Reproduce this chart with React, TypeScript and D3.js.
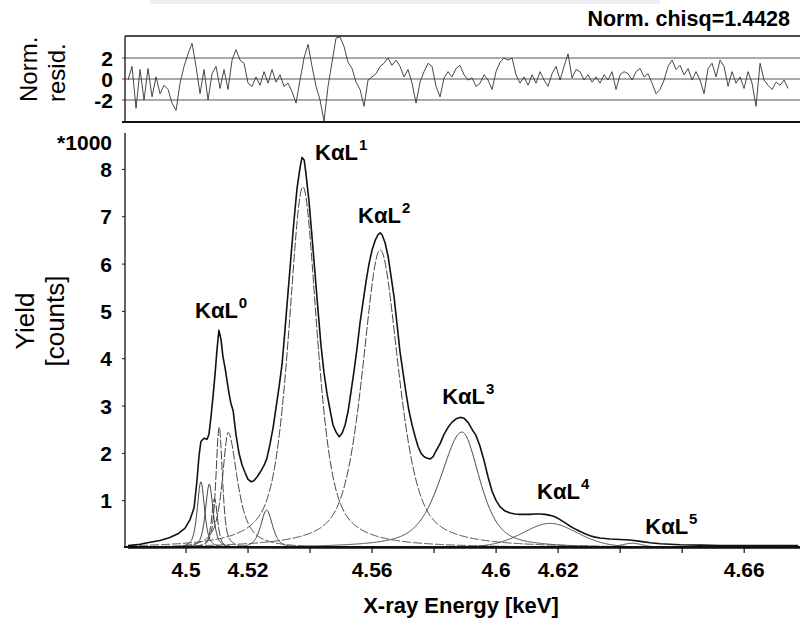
import React, { useRef, useEffect } from 'react';
import * as d3 from 'd3';

// measured spectrum: energy [keV] and yield [counts / 1000]
const specEnergy = [
  4.4813, 4.4852, 4.4884, 4.4916, 4.4948, 4.4974, 4.4997, 4.5013, 4.5026, 4.5035,
  4.5042, 4.5048, 4.5058, 4.5068, 4.5074, 4.5081, 4.5087, 4.5094, 4.5100, 4.5106,
  4.5113, 4.5119, 4.5126, 4.5132, 4.5139, 4.5145, 4.5152, 4.5161, 4.5171, 4.5181,
  4.5190, 4.5200, 4.5210, 4.5219, 4.5229, 4.5239, 4.5252, 4.5261, 4.5271, 4.5281,
  4.5290, 4.5300, 4.5310, 4.5319, 4.5329, 4.5339, 4.5348, 4.5358, 4.5368, 4.5374,
  4.5381, 4.5387, 4.5397, 4.5406, 4.5416, 4.5426, 4.5435, 4.5445, 4.5455, 4.5465,
  4.5474, 4.5484, 4.5494, 4.5503, 4.5513, 4.5523, 4.5532, 4.5542, 4.5552, 4.5561,
  4.5571, 4.5581, 4.5590, 4.5600, 4.5610, 4.5619, 4.5626, 4.5632, 4.5642, 4.5652,
  4.5661, 4.5671, 4.5681, 4.5690, 4.5700, 4.5710, 4.5719, 4.5729, 4.5739, 4.5748,
  4.5758, 4.5768, 4.5777, 4.5787, 4.5797, 4.5806, 4.5819, 4.5832, 4.5845, 4.5858,
  4.5871, 4.5884, 4.5897, 4.5910, 4.5923, 4.5935, 4.5948, 4.5961, 4.5974, 4.5987,
  4.6000, 4.6013, 4.6029, 4.6045, 4.6061, 4.6077, 4.6094, 4.6110, 4.6126, 4.6142,
  4.6158, 4.6174, 4.6190, 4.6206, 4.6223, 4.6239, 4.6255, 4.6271, 4.6287, 4.6303,
  4.6319, 4.6335, 4.6368, 4.6400, 4.6432, 4.6465, 4.6497, 4.6529, 4.6594, 4.6658,
  4.6723, 4.6819, 4.6916, 4.6974
];
const specYield = [
  0.05, 0.08, 0.12, 0.16, 0.22, 0.30, 0.42, 0.60, 0.85, 1.40,
  1.95, 2.25, 2.32, 2.30, 2.40, 2.80, 3.20, 3.70, 4.20, 4.60,
  4.40, 4.05, 3.80, 3.55, 3.25, 3.05, 2.90, 2.40, 2.00, 1.75,
  1.60, 1.45, 1.40, 1.42, 1.50, 1.60, 1.75, 1.90, 2.20, 2.55,
  2.95, 3.40, 3.90, 4.60, 5.40, 6.20, 6.90, 7.60, 8.05, 8.25,
  8.20, 7.90, 7.30, 6.60, 5.80, 5.00, 4.30, 3.70, 3.25, 2.90,
  2.60, 2.45, 2.35, 2.42, 2.60, 2.90, 3.30, 3.75, 4.25, 4.75,
  5.20, 5.65, 6.00, 6.30, 6.50, 6.62, 6.66, 6.62, 6.45, 6.15,
  5.75, 5.30, 4.70, 4.15, 3.70, 3.25, 2.90, 2.60, 2.35, 2.15,
  2.00, 1.93, 1.90, 1.88, 1.93, 2.05, 2.20, 2.40, 2.55, 2.66,
  2.73, 2.76, 2.74, 2.65, 2.50, 2.38, 2.15, 1.85, 1.50, 1.20,
  1.00, 0.87, 0.78, 0.74, 0.72, 0.71, 0.71, 0.71, 0.72, 0.72,
  0.71, 0.69, 0.66, 0.60, 0.53, 0.46, 0.40, 0.35, 0.30, 0.26,
  0.23, 0.21, 0.19, 0.18, 0.17, 0.14, 0.11, 0.09, 0.07, 0.06,
  0.05, 0.05, 0.05, 0.05
];

// fitted line components (pseudo-Voigt): centre, height, left/right HWHM [keV], lorentz fraction
const peakCenter = [4.5048, 4.5075, 4.5092, 4.5107, 4.5136, 4.5260, 4.5377, 4.5626, 4.5890, 4.6174, 4.6439];
const peakHeight = [1.40, 1.35, 1.05, 2.56, 2.44, 0.80, 7.63, 6.30, 2.45, 0.52, 0.10];
const peakWidthL = [0.00139, 0.00145, 0.00113, 0.00123, 0.00226, 0.00226, 0.00548, 0.00677, 0.00839, 0.01065, 0.00452];
const peakWidthR = [0.00139, 0.00145, 0.00113, 0.00123, 0.00355, 0.00226, 0.00548, 0.00710, 0.00677, 0.01065, 0.00452];
const peakEta = [0.6, 0.6, 0.6, 0.6, 0.85, 0.6, 0.65, 0.6, 0.6, 0.3, 0.5];
const peakDashed = [false, false, true, true, true, false, true, true, false, false, false];

// normalised residuals, one per channel
const residStart = 4.4813;
const residStep = 0.00129;
const residuals = [
  -0.1, 1.2, -2.8, 0.9, -2.0, 1.0, -1.7, 0.2, -1.4, -0.6,
  -1.0, -2.3, -3.0, -0.4, 1.2, 2.4, 3.4, 1.2, -1.4, 0.9,
  -2.0, 0.5, 1.2, -0.9, 0.9, -1.0, 1.8, 2.8, 1.8, 1.5,
  -0.4, -0.7, 0.2, -0.6, 0.7, -0.4, 0.9, -0.3, 0.4, -0.7,
  -0.4, -1.2, -2.3, -0.1, 2.0, 3.3, 1.2, -0.7, -2.0, -4.0,
  -0.7, 1.6, 3.9, 4.0, 3.1, 1.6, 1.0, -0.3, -1.0, -2.6,
  -0.1, 0.2, 0.5, 1.2, 1.5, 2.0, 1.3, 1.8, 1.2, 0.2,
  0.9, -0.4, -2.3, -0.3, 0.7, 1.5, 1.2, -0.7, -1.7, 0.1,
  0.7, 0.2, 1.0, 1.3, 0.4, -0.1, 0.1, -0.7, -0.4, 0.4,
  -0.1, -1.0, 0.7, 1.6, 2.0, 1.8, 2.0, 0.4, -0.4, 0.2,
  -0.6, 0.4, -0.4, 0.7, -0.1, -0.7, 0.5, 1.2, -0.1, 1.2,
  2.4, 0.1, 0.9, 0.7, -0.1, 0.4, -0.3, 0.2, -0.4, 0.4,
  -0.1, 0.7, -1.0, 0.4, 0.7, 0.5, -0.1, 0.7, 1.0, 0.2,
  0.5, -0.4, -1.4, -1.0, -0.1, 1.2, 1.8, 0.9, 1.3, 0.4,
  1.0, -0.1, 0.7, -0.1, -1.4, 1.0, 1.5, 0.2, 1.8, 1.2,
  -0.7, 0.7, -0.4, 0.2, -0.9, 0.7, -0.4, -2.6, 1.5, -0.1,
  -0.6, -1.0, -0.3, -0.6, -0.1, -0.9
];

const yTicks = [1, 2, 3, 4, 5, 6, 7, 8];
const residTicks = [2, 0, -2];
const xTickValues = [4.5, 4.52, 4.54, 4.56, 4.58, 4.6, 4.62, 4.64, 4.66, 4.68];
const xLabelValues = [4.5, 4.52, 4.56, 4.6, 4.62, 4.68];
const xLabelTexts = ['4.5', '4.52', '4.56', '4.6', '4.62', '4.66'];

const lineLabels = ['0', '1', '2', '3', '4', '5'];
const labelEnergy = [4.5029, 4.5416, 4.5555, 4.5826, 4.6132, 4.6481];
const labelYield = [4.86, 8.19, 6.87, 3.04, 1.04, 0.30];

const chisq = '1.4428';

const FONT = "'Liberation Sans', Arial, Helvetica, sans-serif";

const pseudoVoigt = (e: number, i: number) => {
  const c = peakCenter[i];
  const w = e < c ? peakWidthL[i] : peakWidthR[i];
  const r = ((e - c) / w) ** 2;
  const eta = peakEta[i];
  return peakHeight[i] * (eta / (1 + r) + (1 - eta) * Math.exp(-Math.LN2 * r));
};

const App = () => {
  const svgRef = useRef<SVGSVGElement>(null);

  useEffect(() => {
    const svg = d3.select(svgRef.current);
    svg.selectAll('*').remove();

    const x = d3.scaleLinear().domain([4.48, 4.698]).range([124, 800]);
    const y = d3.scaleLinear().domain([0, 8.77]).range([548, 133]);
    const yr = d3.scaleLinear().domain([-4.1, 4.1]).range([122, 36]);

    // faint strip at the top edge of the scan
    svg.append('rect').attr('x', 150).attr('y', 0).attr('width', 510).attr('height', 4)
      .attr('fill', '#eeeeee');

    // ---- residual panel ----
    const top = svg.append('g');
    residTicks.forEach(t => {
      top.append('line')
        .attr('x1', 122).attr('x2', 800)
        .attr('y1', yr(t)).attr('y2', yr(t))
        .attr('stroke', '#555').attr('stroke-width', 1);
      top.append('text')
        .attr('x', 113).attr('y', yr(t)).attr('dy', '0.36em')
        .attr('text-anchor', 'end')
        .style('font-family', FONT).style('font-size', '21px').style('font-weight', 'bold')
        .text(t);
    });
    top.append('line').attr('x1', 125).attr('x2', 800).attr('y1', 36).attr('y2', 36)
      .attr('stroke', '#111').attr('stroke-width', 1.3);
    top.append('line').attr('x1', 122).attr('x2', 800).attr('y1', 122).attr('y2', 122)
      .attr('stroke', '#111').attr('stroke-width', 2.2);
    top.append('line').attr('x1', 125).attr('x2', 125).attr('y1', 36).attr('y2', 122)
      .attr('stroke', '#111').attr('stroke-width', 1.3);

    const residLine = d3.line<number>()
      .x((d, i) => x(residStart + i * residStep))
      .y(d => yr(d));
    top.append('path').datum(residuals)
      .attr('d', residLine)
      .attr('fill', 'none').attr('stroke', '#333').attr('stroke-width', 0.9);

    top.append('text')
      .attr('transform', 'translate(37,102) rotate(-90)')
      .style('font-family', FONT).style('font-size', '24px')
      .text('Norm.');
    top.append('text')
      .attr('transform', 'translate(65,102) rotate(-90)')
      .style('font-family', FONT).style('font-size', '24px')
      .text('resid.');

    svg.append('text')
      .attr('x', 790).attr('y', 26).attr('text-anchor', 'end')
      .style('font-family', FONT).style('font-size', '21.5px').style('font-weight', 'bold')
      .text(`Norm. chisq=${chisq}`);

    // ---- spectrum panel ----
    const main = svg.append('g');

    const grid = d3.range(4.4813, 4.698, 0.0002);
    peakCenter.forEach((_, i) => {
      const comp = d3.line<number>()
        .x(e => x(e))
        .y(e => y(pseudoVoigt(e, i)));
      main.append('path').datum(grid)
        .attr('d', comp)
        .attr('fill', 'none')
        .attr('stroke', '#444')
        .attr('stroke-width', 1)
        .attr('stroke-dasharray', peakDashed[i] ? '9,2' : null);
    });

    const specLine = d3.line<number>()
      .x((d, i) => x(specEnergy[i]))
      .y(d => y(d));
    main.append('path').datum(specYield)
      .attr('d', specLine)
      .attr('fill', 'none').attr('stroke', '#111').attr('stroke-width', 1.6)
      .attr('stroke-linejoin', 'round');

    // axes
    main.append('line').attr('x1', 125).attr('x2', 125).attr('y1', 133).attr('y2', y(0))
      .attr('stroke', '#111').attr('stroke-width', 1.3);
    main.append('line').attr('x1', 124).attr('x2', 800).attr('y1', y(0) - 1).attr('y2', y(0) - 1)
      .attr('stroke', '#111').attr('stroke-width', 2);

    yTicks.forEach(t => {
      main.append('line').attr('x1', 122).attr('x2', 125).attr('y1', y(t)).attr('y2', y(t))
        .attr('stroke', '#111');
      main.append('text')
        .attr('x', 112).attr('y', y(t)).attr('dy', '0.36em')
        .attr('text-anchor', 'end')
        .style('font-family', FONT).style('font-size', '21px').style('font-weight', 'bold')
        .text(t);
    });
    main.append('text')
      .attr('x', 112).attr('y', 150).attr('text-anchor', 'end')
      .style('font-family', FONT).style('font-size', '21px').style('font-weight', 'bold')
      .text('*1000');

    xTickValues.forEach(t => {
      main.append('line').attr('x1', x(t)).attr('x2', x(t)).attr('y1', y(0)).attr('y2', y(0) + 5)
        .attr('stroke', '#111').attr('stroke-width', 1.2);
    });
    xLabelValues.forEach((t, i) => {
      main.append('text')
        .attr('x', x(t)).attr('y', 577).attr('text-anchor', 'middle')
        .style('font-family', FONT).style('font-size', '21px').style('font-weight', 'bold')
        .text(xLabelTexts[i]);
    });

    main.append('text')
      .attr('x', 461).attr('y', 613).attr('text-anchor', 'middle')
      .style('font-family', FONT).style('font-size', '22px').style('font-weight', 'bold')
      .text('X-ray Energy [keV]');

    main.append('text')
      .attr('transform', 'translate(34,321) rotate(-90)').attr('text-anchor', 'middle')
      .style('font-family', FONT).style('font-size', '26px')
      .text('Yield');
    main.append('text')
      .attr('transform', 'translate(64,321) rotate(-90)').attr('text-anchor', 'middle')
      .style('font-family', FONT).style('font-size', '26px')
      .text('[counts]');

    // line labels
    lineLabels.forEach((s, i) => {
      const t = main.append('text')
        .attr('x', x(labelEnergy[i])).attr('y', y(labelYield[i]))
        .style('font-family', FONT).style('font-size', '22px').style('font-weight', 'bold');
      t.append('tspan').text('K\u03b1L');
      t.append('tspan').attr('dy', -10).attr('dx', 1).style('font-size', '15px').text(s);
    });
  }, []);

  return (
    <svg ref={svgRef} width={801} height={623}
      style={{ position: 'absolute', left: 0, top: 0, background: '#fff' }} />
  );
};

export default App;
